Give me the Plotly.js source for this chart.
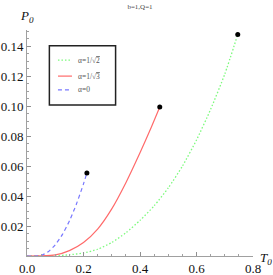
<!DOCTYPE html>
<html><head><meta charset="utf-8">
<script src="https://cdn.plot.ly/plotly-3.0.1.min.js"></script>
<style>html,body{margin:0;padding:0;background:#fff}#chart{width:273px;height:275px}</style>
</head><body><div id="chart"></div>
<script>
const chartTitle = "b=1,Q=1";
const seriesNames = ["α=1/√<span style='text-decoration:overline'>2</span>",
                     "α=1/√<span style='text-decoration:overline'>3</span>",
                     "α=0"];

const greenT = [0, 0.05, 0.1, 0.15, 0.2, 0.25, 0.3, 0.35, 0.4, 0.45, 0.5, 0.55, 0.6, 0.65, 0.7, 0.746];
const greenP = [0, 0, 0.0002, 0.0008, 0.0020, 0.0045, 0.0090, 0.0155, 0.0238, 0.0335, 0.0455, 0.0600, 0.0775, 0.0980, 0.1215, 0.148];

const redT = [0, 0.05, 0.1, 0.15, 0.2, 0.25, 0.3, 0.35, 0.4, 0.44, 0.47];
const redP = [0, 0.0001, 0.0007, 0.0036, 0.0090, 0.0180, 0.0315, 0.0490, 0.0690, 0.0860, 0.0995];

const blueT = [0, 0.03, 0.05, 0.075, 0.1, 0.125, 0.15, 0.175, 0.2, 0.212];
const blueP = [0, 0, 0.0004, 0.0028, 0.0075, 0.0143, 0.0234, 0.0347, 0.0482, 0.0555];

const xTickVals = [0, 0.2, 0.4, 0.6, 0.8];
const yTickVals = [0.02, 0.04, 0.06, 0.08, 0.10, 0.12, 0.14];

const serif = "Liberation Serif, Times New Roman, serif";
const last = a => a[a.length - 1];

const lineStyles = [
  {color: "#7dfa7d", width: 1.3, dash: "1.5px,2px"},
  {color: "#ff6a6a", width: 1.2, dash: "solid"},
  {color: "#7878ff", width: 1.2, dash: "4px,3px"}
];
const seriesT = [greenT, redT, blueT];
const seriesP = [greenP, redP, blueP];

const traces = seriesT.map((t, i) => ({
  x: t, y: seriesP[i], mode: "lines", showlegend: false, hoverinfo: "skip",
  line: Object.assign({shape: "spline", smoothing: 0.6}, lineStyles[i])
}));
traces.push({
  x: seriesT.map(last), y: seriesP.map(last),
  mode: "markers", showlegend: false, hoverinfo: "skip",
  marker: {color: "#000", size: 5}
});

// legend box (drawn in paper coordinates)
const legendBox = {x0: 0.099, x1: 0.392, y0: 0.668, y1: 0.930};
const legendRowsY = [0.867, 0.796, 0.735];
const legendSampleX = [0.137, 0.199];
const legendTextX = 0.218;

const shapes = [{
  type: "rect", xref: "paper", yref: "paper",
  x0: legendBox.x0, x1: legendBox.x1, y0: legendBox.y0, y1: legendBox.y1,
  line: {color: "#222", width: 1.5}, fillcolor: "#fff", layer: "above"
}];
const annotations = [];
seriesNames.forEach((name, i) => {
  shapes.push({type: "line", xref: "paper", yref: "paper",
    x0: legendSampleX[0], x1: legendSampleX[1], y0: legendRowsY[i], y1: legendRowsY[i],
    line: {color: lineStyles[i].color, width: lineStyles[i].width, dash: lineStyles[i].dash}, layer: "above"});
  annotations.push({text: name, xref: "paper", yref: "paper", x: legendTextX, y: legendRowsY[i],
    xanchor: "left", yanchor: "middle", showarrow: false,
    font: {family: serif, size: 7.5, color: "#555"}});
});
annotations.push(
  {text: "<i>T</i><sub><i>0</i></sub>", xref: "paper", yref: "paper", x: 1, y: 0,
   xanchor: "left", yanchor: "middle", xshift: 5, yshift: -2, showarrow: false,
   font: {family: serif, size: 13, color: "#111"}},
  {text: "<i>P</i><sub><i>0</i></sub>", xref: "paper", yref: "paper", x: 0, y: 1,
   xanchor: "center", yanchor: "bottom", xshift: 0, yshift: 3, showarrow: false,
   font: {family: serif, size: 13, color: "#111"}}
);

const axisCommon = {
  showgrid: false, zeroline: false, showline: true, linecolor: "#a0a0a0", linewidth: 1,
  ticks: "inside", ticklen: 4, tickcolor: "#909090", tickwidth: 1,
  tickfont: {family: serif, size: 13, color: "#111"},
  tickmode: "array"
};

const layout = {
  width: 273, height: 275,
  margin: {l: 27, r: 20, t: 30, b: 19, pad: 0},
  paper_bgcolor: "#fff", plot_bgcolor: "#fff",
  showlegend: false,
  title: {text: chartTitle, font: {family: serif, size: 7, color: "#444"},
          x: 0.5, xref: "paper", y: 0.978, yanchor: "middle"},
  xaxis: Object.assign({}, axisCommon, {
    range: [0, 0.8], tickvals: xTickVals, tickformat: ".1f",
    minor: {tickmode: "linear", tick0: 0, dtick: 0.05, ticks: "inside", ticklen: 2, tickcolor: "#a0a0a0"}
  }),
  yaxis: Object.assign({}, axisCommon, {
    range: [0, 0.151], tickvals: yTickVals, tickformat: ".2f",
    minor: {tickmode: "linear", tick0: 0, dtick: 0.005, ticks: "inside", ticklen: 2, tickcolor: "#a0a0a0"}
  }),
  shapes: shapes,
  annotations: annotations
};

Plotly.newPlot("chart", traces, layout, {displayModeBar: false, staticPlot: true});
</script></body></html>
